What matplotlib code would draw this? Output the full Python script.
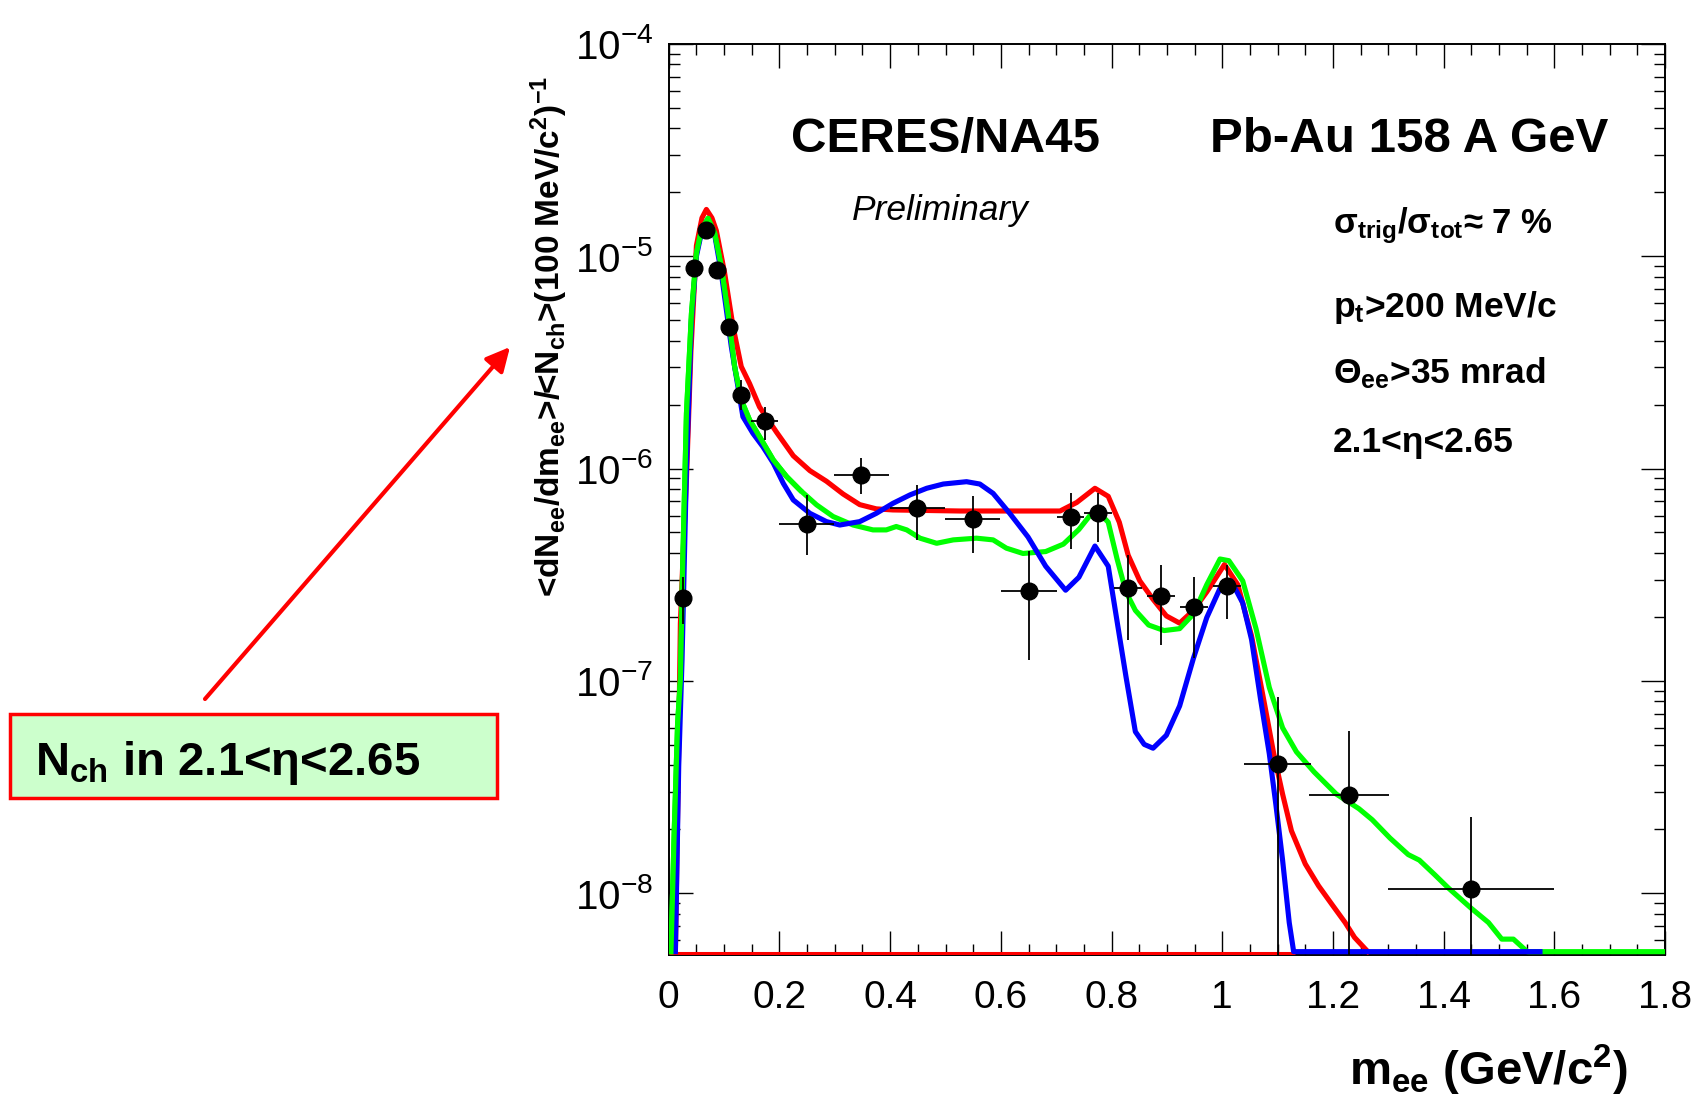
import numpy as np
import matplotlib
matplotlib.use("Agg")
import matplotlib.pyplot as plt
from matplotlib.ticker import MultipleLocator, LogLocator, NullFormatter
from matplotlib.patches import Rectangle

plt.rcParams['font.family'] = ['Liberation Sans', 'DejaVu Sans']
plt.rcParams['mathtext.fontset'] = 'custom'
plt.rcParams['mathtext.rm'] = 'Liberation Sans'
plt.rcParams['mathtext.it'] = 'Liberation Sans:italic'
plt.rcParams['mathtext.bf'] = 'Liberation Sans:bold'

# ---- data points (CERES/NA45 Pb-Au 158 A GeV, preliminary)
m_ee = [0.026, 0.046, 0.068, 0.087, 0.108, 0.131, 0.173, 0.249, 0.348, 0.449, 0.549,
        0.651, 0.726, 0.775, 0.830, 0.889, 0.949, 1.008, 1.100, 1.229, 1.449]
yield_ = [2.45e-7, 8.75e-6, 1.33e-5, 8.6e-6, 4.66e-6, 2.22e-6, 1.68e-6, 5.5e-7, 9.3e-7,
          6.5e-7, 5.77e-7, 2.65e-7, 5.9e-7, 6.2e-7, 2.75e-7, 2.5e-7, 2.22e-7, 2.79e-7,
          4.04e-8, 2.91e-8, 1.05e-8]
y_hi = [3.07e-7, 9.3e-6, 1.4e-5, 9.2e-6, 5.0e-6, 2.61e-6, 1.95e-6, 7.5e-7, 1.12e-6,
        8.4e-7, 7.4e-7, 4.1e-7, 7.7e-7, 7.7e-7, 3.9e-7, 3.53e-7, 3.08e-7, 3.53e-7,
        8.4e-8, 5.8e-8, 2.28e-8]
y_lo = [1.85e-7, 8.2e-6, 1.26e-5, 8.0e-6, 4.3e-6, 1.89e-6, 1.36e-6, 3.92e-7, 7.6e-7,
        4.6e-7, 4.0e-7, 1.26e-7, 4.2e-7, 4.5e-7, 1.56e-7, 1.47e-7, 1.28e-7, 1.95e-7,
        1e-10, 1e-10, 1e-10]
x_err = [0.01, 0.01, 0.01, 0.01, 0.01, 0.01, 0.025, 0.05, 0.05, 0.05, 0.05,
         0.05, 0.025, 0.025, 0.025, 0.025, 0.025, 0.025, 0.06, 0.072, 0.15]

# ---- model curves (log10 of yield)
floor_log = -8.275

red_x = [0.012, 0.018, 0.021, 0.026, 0.032, 0.040, 0.050, 0.060, 0.068, 0.078, 0.086,
         0.101, 0.116, 0.131, 0.146, 0.164, 0.195, 0.225, 0.255, 0.285, 0.315, 0.345,
         0.375, 0.405, 0.526, 0.646, 0.707, 0.737, 0.770, 0.794, 0.814, 0.830, 0.851,
         0.875, 0.899, 0.923, 0.948, 0.972, 1.004, 1.028, 1.053, 1.077, 1.093, 1.109,
         1.125, 1.150, 1.174, 1.198, 1.222, 1.239, 1.263]
red_log = [floor_log, -7.3, -6.73, -6.4, -6.05, -5.45, -4.95, -4.82, -4.78, -4.82, -4.88,
           -5.08, -5.33, -5.52, -5.60, -5.71, -5.83, -5.94, -6.01, -6.06, -6.12, -6.17,
           -6.19, -6.195, -6.20, -6.20, -6.20, -6.16, -6.093, -6.131, -6.253, -6.408, -6.529,
           -6.616, -6.694, -6.728, -6.668, -6.581, -6.452, -6.547, -6.789, -7.118, -7.343,
           -7.533, -7.706, -7.862, -7.965, -8.052, -8.138, -8.208, floor_log]

blue_x = [0.012, 0.018, 0.024, 0.032, 0.041, 0.050, 0.059, 0.070, 0.083, 0.095, 0.105,
          0.113, 0.125, 0.134, 0.152, 0.170, 0.189, 0.207, 0.225, 0.255, 0.285, 0.309,
          0.345, 0.375, 0.405, 0.436, 0.466, 0.496, 0.538, 0.562, 0.586, 0.616, 0.649,
          0.681, 0.717, 0.741, 0.770, 0.794, 0.810, 0.826, 0.843, 0.859, 0.875, 0.899,
          0.923, 0.948, 0.972, 0.996, 1.016, 1.037, 1.053, 1.069, 1.085, 1.097, 1.109,
          1.121, 1.129, 1.154, 1.574]
blue_log = [floor_log, -7.4, -6.9, -6.0, -5.3, -5.0, -4.89, -4.83, -4.9, -5.08, -5.27,
            -5.426, -5.615, -5.756, -5.834, -5.897, -5.975, -6.07, -6.148, -6.211, -6.25,
            -6.266, -6.25, -6.211, -6.164, -6.124, -6.093, -6.073, -6.062, -6.073, -6.117,
            -6.211, -6.322, -6.46, -6.573, -6.512, -6.365, -6.46, -6.72, -6.979, -7.239,
            -7.299, -7.317, -7.256, -7.118, -6.893, -6.702, -6.564, -6.529, -6.633, -6.806,
            -7.083, -7.343, -7.585, -7.844, -8.138, floor_log, floor_log, floor_log]

green_x = [0.004, 0.010, 0.016, 0.021, 0.026, 0.032, 0.041, 0.050, 0.059, 0.071, 0.083,
           0.095, 0.107, 0.119, 0.131, 0.146, 0.164, 0.189, 0.213, 0.237, 0.267, 0.297,
           0.333, 0.369, 0.393, 0.411, 0.430, 0.454, 0.484, 0.514, 0.556, 0.586, 0.610,
           0.640, 0.681, 0.713, 0.741, 0.762, 0.778, 0.794, 0.810, 0.826, 0.843, 0.867,
           0.895, 0.923, 0.948, 0.972, 0.996, 1.012, 1.037, 1.061, 1.085, 1.109, 1.134,
           1.166, 1.206, 1.247, 1.271, 1.303, 1.336, 1.356, 1.384, 1.408, 1.449, 1.481,
           1.505, 1.526, 1.551, 1.80]
green_log = [floor_log, -7.7, -7.2, -6.995, -6.367, -5.74, -5.27, -4.987, -4.877, -4.822,
             -4.893, -5.05, -5.27, -5.52, -5.677, -5.771, -5.85, -5.96, -6.038, -6.101,
             -6.171, -6.226, -6.266, -6.289, -6.289, -6.273, -6.289, -6.328, -6.352, -6.336,
             -6.328, -6.336, -6.375, -6.40, -6.391, -6.356, -6.287, -6.218, -6.209, -6.253,
             -6.426, -6.581, -6.668, -6.737, -6.763, -6.754, -6.685, -6.547, -6.426, -6.434,
             -6.529, -6.754, -7.031, -7.221, -7.334, -7.429, -7.533, -7.602, -7.654, -7.74,
             -7.818, -7.844, -7.913, -7.974, -8.069, -8.138, -8.216, -8.216, floor_log, floor_log]

# thin red line lying on the bottom edge
base_x = [0.0, 1.132]
base_log = [-8.283, -8.283]

x_ticks = [0, 0.2, 0.4, 0.6, 0.8, 1.0, 1.2, 1.4, 1.6, 1.8]
x_ticklabels = ['0', '0.2', '0.4', '0.6', '0.8', '1', '1.2', '1.4', '1.6', '1.8']

RED, GREEN, BLUE = '#ff0000', '#00ff00', '#0000ff'

fig = plt.figure(figsize=(17.06, 10.95), dpi=100, facecolor='w')
ax = fig.add_axes([0.392, 0.128, 0.584, 0.832])

lw = 3.7
ax.plot(base_x, 10 ** np.array(base_log), color=RED, lw=2.2, solid_capstyle='butt', zorder=2)
ax.plot(red_x, 10 ** np.array(red_log), color=RED, lw=lw, zorder=2)
ax.plot(blue_x, 10 ** np.array(blue_log), color=BLUE, lw=lw, zorder=2.5)
ax.plot(green_x, 10 ** np.array(green_log), color=GREEN, lw=lw, zorder=2.4)
# green runs underneath blue on the floor, so redraw the rising edge of green on top
ax.plot(green_x[:20], 10 ** np.array(green_log[:20]), color=GREEN, lw=lw, zorder=2.6)

yerr = [np.array(yield_) - np.array(y_lo), np.array(y_hi) - np.array(yield_)]
ax.errorbar(m_ee, yield_, xerr=x_err, yerr=yerr, fmt='o', color='black', ms=12,
            elinewidth=1.3, capsize=0, zorder=5)

ax.set_yscale('log')
ax.set_xlim(0, 1.8)
ax.set_ylim(10 ** -8.29, 1e-4)

ax.set_xticks(x_ticks)
ax.set_xticklabels(x_ticklabels)
ax.xaxis.set_minor_locator(MultipleLocator(0.05))
ax.yaxis.set_major_locator(LogLocator(base=10, numticks=10))
ax.yaxis.set_minor_locator(LogLocator(base=10, subs=np.arange(2, 10), numticks=20))
ax.yaxis.set_minor_formatter(NullFormatter())

ax.tick_params(which='both', direction='in', top=True, right=True, width=1.0, color='black')
ax.tick_params(which='major', length=17)
ax.tick_params(which='minor', length=8)
ax.tick_params(axis='x', which='major', labelsize=28, pad=18)
ax.tick_params(axis='y', which='major', labelsize=29, pad=11)
for s in ax.spines.values():
    s.set_linewidth(1.4)
    s.set_zorder(1)

# labels
fig.text(1628 / 1706, 1 - 1085 / 1095, r'm$_\mathbf{ee}$ (GeV/c$^\mathbf{2}$)',
         fontsize=34, fontweight='bold', ha='right', va='baseline')
fig.text(549 / 1706, 1 - 76 / 1095,
         r'<dN$_\mathbf{ee}$/dm$_\mathbf{ee}$>/<N$_\mathbf{ch}$>(100 MeV/c$^\mathbf{2}$)$^\mathbf{-1}$',
         fontsize=24, fontweight='bold', rotation=90, ha='center', va='top')

# annotations inside the frame
fig.text(791 / 1706, 1 - 152 / 1095, 'CERES/NA45', fontsize=35.5, fontweight='bold', va='baseline')
fig.text(1210 / 1706, 1 - 152 / 1095, 'Pb-Au 158 A GeV', fontsize=35.5, fontweight='bold', va='baseline')
fig.text(852 / 1706, 1 - 220 / 1095, 'Preliminary', fontsize=25.5, style='italic', va='baseline')
fig.text(1333 / 1706, 1 - 233 / 1095, r'σ$_\mathbf{trig}$/σ$_\mathbf{tot}$≈ 7 %',
         fontsize=25, fontweight='bold', va='baseline')
fig.text(1333 / 1706, 1 - 317 / 1095, r'p$_\mathbf{t}$>200 MeV/c',
         fontsize=25.5, fontweight='bold', va='baseline')
fig.text(1333 / 1706, 1 - 383 / 1095, r'Θ$_\mathbf{ee}$>35 mrad',
         fontsize=25.5, fontweight='bold', va='baseline')
fig.text(1333 / 1706, 1 - 452 / 1095, '2.1<η<2.65',
         fontsize=25.5, fontweight='bold', va='baseline')

# green box with arrow
box = Rectangle((10 / 1706, 1 - 798 / 1095), 487 / 1706, 84 / 1095, transform=fig.transFigure,
                facecolor='#ccffcc', edgecolor=RED, lw=2.5)
fig.patches.append(box)
fig.text(35 / 1706, 1 - 775 / 1095, r'N$_\mathbf{ch}$ in 2.1<η<2.65',
         fontsize=34, fontweight='bold', va='baseline')
ax.annotate('', xy=(510 / 1706, 1 - 347 / 1095), xycoords='figure fraction',
            xytext=(205 / 1706, 1 - 699 / 1095), textcoords='figure fraction',
            arrowprops=dict(arrowstyle='-|>', color=RED, lw=3, mutation_scale=36,
                            shrinkA=0, shrinkB=0), annotation_clip=False)

fig.savefig('out.png', dpi=100)
